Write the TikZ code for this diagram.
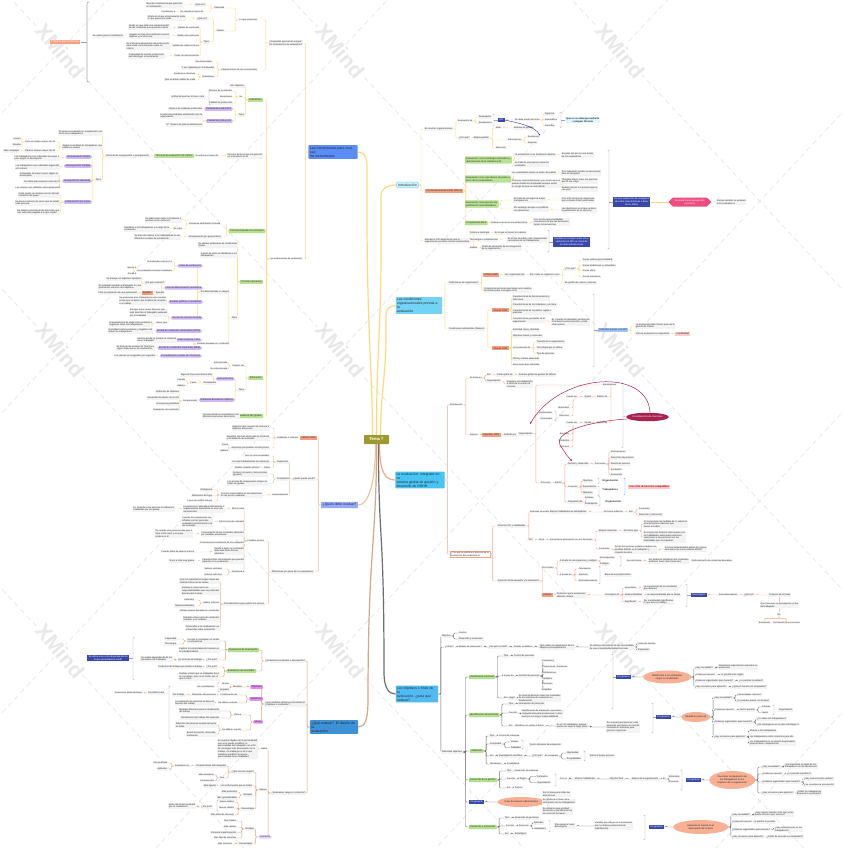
\documentclass[tikz,border=0pt]{standalone}
\usepackage{fontspec}
\setmainfont{Liberation Sans}
\usetikzlibrary{shapes.geometric,shapes.symbols,arrows.meta}
\pgfdeclarelayer{back}\pgfdeclarelayer{bg}
\pgfsetlayers{back,bg,main}
\definecolor{ylw}{HTML}{FFD87A}
\definecolor{slm}{HTML}{F8A68A}
\definecolor{tnl}{HTML}{E9C7A4}
\definecolor{brn}{HTML}{D7A77E}
\definecolor{gry}{HTML}{6E6E6E}
\definecolor{lfbg}{HTML}{F3F3F3}
\definecolor{gbf}{HTML}{B9E394}
\definecolor{gbd}{HTML}{8FCB5C}
\definecolor{pbf}{HTML}{CDB8F8}
\definecolor{sbf}{HTML}{F59E80}
\definecolor{dbf}{HTML}{3949AB}
\definecolor{elf}{HTML}{F8B094}
\definecolor{olv}{HTML}{9C9A2C}
\definecolor{hbl}{HTML}{5B8DF6}
\definecolor{icy}{HTML}{CFF3FC}
\definecolor{cbl}{HTML}{73D3F5}
\definecolor{ebl}{HTML}{48C4F4}
\definecolor{qbl}{HTML}{93ABFB}
\definecolor{wbl}{HTML}{3D91D6}
\definecolor{obl}{HTML}{52BAF2}
\definecolor{mar}{HTML}{A8244F}
\definecolor{hexc}{HTML}{EC4E80}
\definecolor{ppk}{HTML}{E28DF0}
\definecolor{lbb}{HTML}{9EC3FA}
\tikzset{
 lf/.style={fill=lfbg,inner xsep=0.7pt,inner ysep=0.45pt,align=left,text=black!85,font=\fontsize{2.3}{2.75}\selectfont},
 sm/.style={inner xsep=1.2pt,inner ysep=0.8pt,align=left,text=black!85,font=\fontsize{2.4}{2.9}\selectfont},
 gb/.style={sm,fill=gbf,draw=gbd,line width=0.25pt,rounded corners=0.6pt},
 pb/.style={sm,fill=pbf,rounded corners=1.6pt,inner xsep=1.6pt},
 ppb/.style={sm,fill=ppk,rounded corners=0.5pt},
 sb/.style={sm,fill=sbf},
 dbx/.style={sm,fill=dbf,text=white,align=center},
 ell/.style={ellipse,fill=elf,inner sep=0pt,align=center,text=black!85,font=\fontsize{2.4}{2.9}\selectfont},
 brk/.style={draw=gray!70,line width=0.35pt},
 main/.style={align=left,inner sep=1.6pt,rounded corners=0.8pt,text=black!85,font=\fontsize{3.4}{4}\selectfont},
 cn/.style={line width=0.45pt,rounded corners=1pt},
 wm/.style={text=black!9,fill=white,inner sep=1pt,font=\fontsize{21}{21}\selectfont\bfseries,rotate=-50},
 wml/.style={draw=black!11,line width=0.6pt,dash pattern=on 5pt off 4pt},
}
\gdef\conns{}
\newcommand\curc{ylw}
\newcommand\cX[1]{\xdef\conns{\unexpanded\expandafter{\conns}\noexpand\draw[cn,draw=\curc] #1;}}
\newcommand\Lf[3]{\node[lf,anchor=east] (#1) at (#2) {#3};}
\newcommand\Rf[3]{\node[lf,anchor=west] (#1) at (#2) {#3};}
\newcommand\cL[2]{\cX{(#1.west) -- ++(-2.5,0) |- (#2.east)}}
\newcommand\cR[2]{\cX{(#1.east) -- ++(2.5,0) |- (#2.west)}}
\newcommand\cLs[2]{\foreach \xx in {#2}{\cL{#1}{\xx}}}
\newcommand\cRs[2]{\foreach \xx in {#2}{\cR{#1}{\xx}}}
\newcommand\brL[3]{\draw[brk] (#1+1.5,#2) .. controls (#1,#2) .. (#1,#2+2) -- (#1,#3-2) .. controls (#1,#3) .. (#1+1.5,#3);}
\newcommand\brR[3]{\draw[brk] (#1-1.5,#2) .. controls (#1,#2) .. (#1,#2+2) -- (#1,#3-2) .. controls (#1,#3) .. (#1-1.5,#3);}
\begin{document}
\begin{tikzpicture}[x=1pt,y=-1pt]
\begin{pgfonlayer}{back}
\fill[white] (0,0) rectangle (842,848);
\begin{scope}
\clip (0,0) rectangle (842,848);
\foreach \bb in {-613,-313,-13,287,587}{\draw[wml] (-10,-10.714+\bb) -- (852,912.86+\bb);}
\foreach \bb in {115,415,715,1015,1315,1615}{\draw[wml] (-10,10.714+\bb) -- (852,-912.86+\bb);}
\end{scope}
\foreach \wx in {60,340,620}{\foreach \wy in {51,350,651}{\node[wm] at (\wx,\wy) {XMind};}}
\end{pgfonlayer}
\useasboundingbox (0,0) rectangle (842,848);

% ===== main nodes
\node[main,fill=olv,text=white,font=\fontsize{4.2}{5}\selectfont\bfseries,minimum width=25,minimum height=9,align=center] (T) at (376.5,439.5) {Tema 7};
\node[main,fill=hbl,text width=46] (H) at (333,152) {Las herramientas para evaluar:\\los instrumentos};
\node[main,fill=icy,draw=cbl,line width=0.3pt] (I) at (407.5,185) {Introducción};
\node[main,fill=cbl,text width=44,inner sep=1.2pt] (C) at (419,305.5) {Las condiciones\\organizacionales previas a la\\evaluación};
\node[main,fill=ebl,text width=47,inner sep=1.2pt] (E) at (420,480) {La evaluación: integrada en un\\sistema global de gestión y\\desarrollo de RRHH};
\node[main,fill=qbl] (Q) at (339.5,505) {¿Quién debe evaluar?};
\node[main,fill=wbl,text width=45] (W) at (334,727) {¿Qué evaluar? El diseño de la\\evaluación};
\node[main,fill=obl,text width=40,inner sep=1.2pt] (O) at (417,694) {Los objetivos o fines de la\\evaluación, ¿para qué\\evaluar?};

% ===== H section
\Lf{h1}{303,43}{¿Requisitos que han de cumplir\\los instrumentos de evaluación?}
\Lf{h2}{303,259}{Los instrumentos de evaluación}
\cLs{H}{h1,h2}
\Lf{h11}{258,20}{Lo que presentan}
\Lf{h12}{258,70}{Características de los instrumentos}
\cLs{h1}{h11,h12}
\Lf{h111}{225,8}{Fiabilidad}
\Lf{h112}{225,31}{Validez}
\cLs{h11}{h111,h112}
\Lf{a1}{206,5}{¿Qué es?} \Lf{a2}{183,5}{Nivel de consistencia que presenta\\un instrumento}
\Lf{a3}{204,12}{Se calcula a través de} \Lf{a4}{176,12}{Correlación α}
\cLs{h111}{a1,a3}\cL{a1}{a2}\cL{a3}{a4}
\Lf{a5}{208,19}{¿Qué es?} \Lf{a6}{186,18}{Grado en el que el instrumento mide\\lo que queremos medir}
\Lf{a7}{210,42}{Tipos}
\cLs{h112}{a5,a7}\cL{a5}{a6}
\Lf{a8}{200,28}{Validez de contenido} \Lf{a9}{170,27}{Grado en que mide una representación\\de las conductas que queremos medir}
\Lf{a10}{200,36}{Validez de constructo} \Lf{a11}{170,36}{Aspecto en que sirve midiendo nuestro\\objetivo y no otra cosa}
\Lf{a12}{200,46}{Validez de criterio externo} \Lf{a13}{170,46}{Se trata de la adecuación del instrumento\\para medir correctamente sobre un\\criterio}
\Lf{a14}{200,56}{Poder de discriminación} \Lf{a15}{165,56}{Capacidad de nuestro instrumento\\para distinguir el rendimiento}
\cLs{a7}{a8,a10,a12,a14}\cL{a8}{a9}\cL{a10}{a11}\cL{a12}{a13}\cL{a14}{a15}
\Lf{a16}{213,62}{Ser observables} \Lf{a17}{215,68}{Y ser captadas por el evaluador} \Lf{a18}{215,77}{Evaluativas}
\cLs{h12}{a16,a17,a18}
\Lf{a19}{196,74}{Conducta a observar} \Lf{a20}{196,80}{Que se debe realizar de cada}
\cLs{a18}{a19,a20}
\node[lf,anchor=west] (sv) at (92,36) {Se valora para el rendimiento};
\draw[brk,line width=0.6pt] (89.5,2) .. controls (87,2) .. (87,5) -- (87,79) .. controls (87,82) .. (89.5,82);
\node[sm,fill=sbf,text=white,font=\fontsize{2.8}{3.2}\selectfont] (cp) at (65,42) {Criterios psicométricos};
\draw[brk] (cp.east) -- (87,42);

\node[gb,anchor=east] (b1) at (263,100) {Indicadores};
\cL{h2}{b1}
\Lf{b11}{245,86}{Son objetivos} \Lf{b12}{243,97}{Su} \Lf{b13}{245,115}{Tipos}
\cLs{b1}{b11,b12,b13}
\Lf{b14}{233,91}{Número de accidentes} \Lf{b15}{233,97}{Absentismo} \Lf{b16}{233,103}{Calidad de producción}
\cLs{b12}{b14,b15,b16}
\brL{209}{89}{105}
\Lf{b17}{205,97}{Actitud de que hay lo bien o mal}
\node[pb,anchor=east] (b18) at (233,109) {Cantidad de producción};
\node[pb,anchor=east] (b19) at (233,121) {Calidad de producción};
\cLs{b13}{b18,b19}
\Lf{b20}{203,109}{Número de unidades producidas} \cL{b18}{b20}
\Lf{b21}{203,116}{A partir de resultados establecidos por la\\organización} \Lf{b22}{203,125}{Nº. Número de piezas defectuosas}
\cLs{b19}{b21,b22}

\Lf{m1}{263,156}{Para los factores que los generan\\en el producto en el}
\cL{h2}{m1}
\Lf{m2}{219,156}{Se enfoca a través de} \cL{m1}{m2}
\node[gb,anchor=east] (m3) at (194,156) {Técnicas de evaluación de méritos}; \cL{m2}{m3}
\Lf{m4}{150,156}{Técnicas de comparación o jerarquización} \cL{m3}{m4}
\Lf{m5}{103,133}{El sujeto es evaluado en comparación con\\otros otros trabajadores}
\Lf{m6}{103,147}{Según la cantidad de trabajadores que\\podemos evaluar}
\Lf{m7}{102,180}{Tipos}
\cLs{m4}{m5,m6,m7}
\Lf{m8}{56,142}{Para un número menor de 20} \Lf{m9}{56,151}{Para un número mayor de 20}
\cLs{m6}{m8,m9}
\Lf{m10}{22,139}{Grupos} \Lf{m11}{22,145}{Simples} \cLs{m8}{m10,m11}
\Lf{m12}{20,151}{Más complejas} \cL{m9}{m12}
\node[pb,anchor=east] (j1) at (92,157) {Jerarquización simple};
\node[pb,anchor=east] (j2) at (92,166) {Jerarquización múltiple};
\node[pb,anchor=east] (j3) at (92,181) {Jerarquización alternada};
\node[pb,anchor=east] (j4) at (92,202) {Comparación por pares};
\cLs{m7}{j1,j2,j3,j4}
\Lf{j11}{60,158}{Los trabajadores son ordenados de mejor a\\peor según su desempeño} \cL{j1}{j11}
\Lf{j21}{60,167}{Los trabajadores son ordenados siguiendo\\otro criterio} \cL{j2}{j21}
\Lf{j31}{59,175}{Ordenados de mejor a peor según su\\desempeño} \Lf{j32}{61,182}{Se utiliza para evaluar a más de 20} \Lf{j33}{61,188}{Los criterios son utilizados alternativamente}
\cLs{j3}{j31,j32,j33}
\Lf{j41}{60,195}{Cada sujeto se compara con los demás\\miembros del grupo} \Lf{j42}{60,203}{Se pone el número de veces que ha salido\\cada persona} \Lf{j43}{60,212}{Se elabora una lista de las personas que\\han sido más elegidas a lo que resulte}
\cLs{j4}{j41,j42,j43}

\node[gb,anchor=east] (t1) at (265,231) {Técnicas basadas en principios};
\cL{h2}{t1}
\Lf{t2}{221,224}{Escala de distribución forzada} \Lf{t3}{222,237}{Jerarquización por grupos libres}
\cLs{t1}{t2,t3}
\Lf{t4}{182,220}{Se utiliza para evitar la tendencia a\\puntuar en los extremos} \Lf{t5}{183,229}{Su valor}
\cLs{t2}{t4,t5}
\Lf{t6}{170,229}{Identificar a los trabajadores a lo largo de la\\puntuación} \cL{t5}{t6}
\Lf{t7}{181,237}{Se trata de ordenar a los trabajadores en las\\diferentes escalas de rendimiento} \cL{t3}{t7}

\node[gb,anchor=east] (u1) at (263,282) {Técnicas absolutas}; \cL{h2}{u1}
\Lf{u2}{238,245}{Se utilizan estándares de rendimiento\\fijados} \Lf{u3}{238,255}{A partir de estos se identifican a los\\trabajadores} \Lf{u4}{238,318}{Tipos}
\cLs{u1}{u2,u3,u4}
\Lf{u5}{230,292}{Escalas basadas en rasgos} \Lf{u6}{230,344}{Escalas basadas en conductas}
\cLs{u4}{u5,u6}
\node[pb,anchor=east] (r1) at (203,266) {Listas de verificación};
\node[pb,anchor=east] (r2) at (203,288) {Lista de diferenciación semántica};
\node[pb,anchor=east] (r3) at (203,302) {Escalas gráficas o numéricas};
\node[pb,anchor=east] (r4) at (203,318) {Escala de elección forzada};
\cLs{u5}{r1,r2,r3,r4}
\Lf{r11}{173,262}{El evaluador marca en x} \Lf{r12}{173,271}{Los evaluadores tienen resultados}
\cLs{r1}{r11,r12}
\Lf{r13}{137,268}{Nunca 1} \Lf{r14}{137,274}{Pocas 2} \cLs{r12}{r13,r14}
\Lf{r21}{165,283}{¿En qué consiste?} \Lf{r22}{165,293}{Ejemplo}
\cLs{r2}{r21,r22}
\Lf{r23}{142,279}{Se trabaja con adjetivos bipolares} \Lf{r24}{142,287}{El evaluador localiza al trabajador en una\\puntuación entre los dos adjetivos}
\cLs{r21}{r23,r24}
\node[sb,anchor=east] (r25) at (153,293) {Ejemplo}; \cL{r22}{r25}
\Lf{r26}{138,293}{Para la realización de una puntuación} \cL{r25}{r26}
\Lf{r31}{167,301}{Se presentan a los trabajadores unas escalas\\en las que se tienen que localizar de acuerdo\\a su trabajo} \cL{r3}{r31}
\Lf{r41}{168,313}{Escoger entre varias frases la que\\más describe al trabajador evaluado\\por el evaluador} \Lf{r42}{168,323}{Hacer que}
\cLs{r4}{r41,r42}
\Lf{r43}{153,324}{El evaluador ha de elegir entre positivas o\\negativas sobre los trabajadores} \cL{r42}{r43}
\node[pb,anchor=east] (s1) at (202,331) {Escala de conductas observables (BOS)};
\node[pb,anchor=east] (s2) at (202,340) {Técnica del incidente crítico};
\node[pb,anchor=east] (s3) at (202,348) {Escala de conductas esperadas (BES)};
\node[pb,anchor=east] (s4) at (202,356) {Procedimiento escalas de Thurstone};
\cLs{u6}{s1,s2,s3,s4}
\Lf{s11}{153,331}{Describen hechos positivos y negativos de\\actuar los trabajadores} \cL{s1}{s11}
\Lf{s21}{177,340}{Hechos donde se produjo la conducta\\de un trabajador} \cL{s2}{s21}
\Lf{s31}{155,348}{Se trata de las escalas de Thurstone\\según dimensiones de rendimiento} \cL{s3}{s31}
\Lf{s41}{156,356}{Los valores son asignados por expertos} \cL{s4}{s41}

\node[gb,anchor=east] (v1) at (263,378) {Entrevistas}; \cL{h2}{v1}
\Lf{v2}{245,366}{Pueden ser} \Lf{v3}{245,390}{Tipos} \cLs{v1}{v2,v3}
\Lf{v4}{228,363}{Estructurada} \Lf{v5}{228,369}{No estructurada} \cLs{v2}{v4,v5}
\node[pb,anchor=east] (v6) at (235,379) {Entrevista libre};
\node[pb,anchor=east] (v7) at (235,400) {Entrevista basada en objetivos};
\cLs{v3}{v6,v7}
\Lf{v8}{213,375}{Sigue la línea del sistema libre} \Lf{v9}{217,383}{Desempeño}
\cLs{v6}{v8,v9}
\Lf{v10}{197,383}{Pacto} \cL{v9}{v10}
\Lf{v11}{186,380}{Pasado} \Lf{v12}{186,386}{Hábitos} \cLs{v10}{v11,v12}
\Lf{v13}{198,401}{Componentes} \cL{v7}{v13}
\Lf{v14}{180,392}{Definición de objetivos} \Lf{v15}{180,398}{Desarrollo de planes de acción} \Lf{v16}{180,404}{Revisiones periódicas} \Lf{v17}{180,410}{Evaluación de resultados}
\cLs{v13}{v14,v15,v16,v17}
\node[gb,anchor=east] (f1) at (263,416) {Feedback 360 grados}; \cL{h2}{f1}
\Lf{f2}{240,416}{Técnica donde los evaluadores son\\diferentes personas del entorno} \cL{f1}{f2}

% ===== Introducción
\Rf{i1}{424,129}{En muchas organizaciones}
\node[sb,anchor=west] (i2) at (425,191) {Consecuencias de la DPI (Pérez)};
\Rf{i3}{424,241}{Abordar la DPI depende de que la\\organización presente ciertas características}
\cRs{I}{i1,i2,i3}
\Rf{i11}{457,121}{Evaluación de} \Rf{i12}{458,138}{¿Por qué?}
\cRs{i1}{i11,i12}
\Rf{i13}{478,117}{Desempeño} \Rf{i14}{478,123}{Rendimiento} \cRs{i11}{i13,i14}
\brR{494}{114}{126}
\node[dbx,anchor=west] (dpi) at (498,120) {DPI};
\draw[brk] (494,120) -- (dpi.west);
\Rf{i15}{514,120}{Se debe medir de forma} \cR{dpi}{i15}
\Rf{i16}{544,114}{Rigurosa} \Rf{i17}{544,120}{Sistemática} \Rf{i18}{544,126}{Periódica} \cRs{i15}{i16,i17,i18}
\brR{561}{112}{128}
\node[sm,fill=icy!70,anchor=west,align=center,font=\fontsize{2.4}{2.9}\selectfont\bfseries] (i19) at (565,120) {Que no se obtenga mediante\\cualquier fórmula};
\draw[brk] (561,120) -- (i19.west);
\Rf{i20}{473,138}{Mejora gestión} \cR{i12}{i20}
\Rf{i21}{495,128}{Mide} \Rf{i22}{507,140}{Subsistemas} \Rf{i23}{495,148}{Selección}
\cRs{i20}{i21,i22,i23}
\Rf{i24}{513,128}{Sistema de gestión} \cR{i21}{i24}
\Rf{i25}{527,137}{Evaluación} \Rf{i26}{527,143}{Reportar} \cRs{i22}{i25,i26}
\draw[blue!60!black,line width=0.3pt,-{Stealth[length=1.6pt,width=1.4pt]}] (dpi.east) .. controls (518,123) and (535,126) .. (i25.north east);
\node[gb,anchor=west] (g1) at (465,160) {Evaluación como estrategia orientadora y\\determinante de la calidad social};
\node[gb,anchor=west] (g2) at (465,179) {Evaluación como reproductor de poder a\\favor de los evaluadores};
\node[gb,anchor=west] (g3) at (465,204) {Evaluación como proceso de\\justificación racionalizadora};
\node[gb,anchor=west] (g4) at (465,223) {Competencia ética};
\cRs{i2}{g1,g2,g3,g4}
\Rf{g11}{514,155}{La evaluación no es totalmente objetiva} \Rf{g12}{514,164}{Se trata de unos juicios sobre los\\resultados}
\cRs{g1}{g11,g12}
\Rf{g13}{561,155}{El poder del que es una fuente\\de los evaluadores} \cR{g11}{g13}
\Rf{g21}{511,173}{Los evaluadores tienen el poder de evaluar} \Rf{g22}{511,184}{Como las recomendaciones, por mucho que se\\quieran hablar de objetividad siempre existe\\un riesgo de que se esté influido}
\cRs{g2}{g21,g22}
\Rf{g23}{561,173}{Esa evaluación tendrá consecuencias\\para el trabajador} \Rf{g24}{561,181}{Otorgarle mayor valor a la persona\\que le cae mejor} \Rf{g25}{561,189}{Evaluar menos a la persona que le\\cae peor}
\cR{g21}{g23}\cRs{g22}{g24,g25}
\Rf{g31}{513,200}{Se trata de conseguir la mayor\\transparencia} \Rf{g32}{513,209}{Sin embargo siempre se justifican\\con decisiones}
\cRs{g3}{g31,g32}
\Rf{g33}{561,200}{Con el fin de que las decisiones\\que se basen estén justificadas} \Rf{g34}{561,210}{Las decisiones en el que se basa\\la justificación de su decisión}
\cR{g31}{g33}\cR{g32}{g34}
\Rf{g41}{490,223}{Debemos de tener una actitud ética} \cR{g4}{g41}
\Rf{g42}{533,222}{Con mucha responsabilidad,\\conscientes de que las decisiones\\tienen consecuencias} \cR{g41}{g42}
\brR{609}{150}{249}
\node[dbx,anchor=west] (g5) at (613,202) {Es una evaluación de cualquiera\\de estas características a favor\\de su efecto};
\draw[brk] (609,202) -- (g5.west);
\node[signal,signal to=east and west,fill=hexc,text=white,font=\fontsize{2.4}{2.9}\selectfont,align=center,inner sep=0.6pt,minimum width=43,minimum height=9,anchor=west] (g6) at (668,202) {Se suele hacer desapercibir\\(encubrir)};
\cX{(g5.east) -- (g6.west)}
\Rf{g7}{716,202}{Porque también se evaluará\\a los evaluadores} \cR{g6}{g7}
\Rf{k1}{469,233}{Cultura e ideología} \Rf{k2}{469,240}{Tecnología o competencias} \Rf{k3}{469,248}{Medios}
\cRs{i3}{k1,k2,k3}
\Rf{k4}{494,233}{Es lo que se hacen los valores} \Rf{k5}{507,240}{Es el tipo de saber y las competencias\\necesarias de los trabajadores} \Rf{k6}{481,248}{Grado de desarrollo de los integrantes\\de la organización}
\cR{k1}{k4}\cR{k2}{k5}\cR{k3}{k6}
\brR{549}{230}{252}
\node[dbx,anchor=west] (k7) at (553,242) {Cuando se manejan todos estos\\elementos la DPI se convierte\\en unas interacciones};
\draw[brk] (549,242) -- (k7.west);

% ===== Condiciones
\Rf{c1}{448,283}{Definiciones de organización} \Rf{c2}{448,329}{Condiciones ambientales (Álvarez)}
\cRs{C}{c1,c2}
\node[sb,anchor=west] (c11) at (483,275) {Schein 1982}; \Rf{c12}{483,290}{Conjunto de personas que tienen unos medios\\necesarios para conseguir un fin}
\cRs{c1}{c11,c12}
\Rf{c13}{504,275}{Las organizaciones} \cR{c11}{c13}
\Rf{c14}{529,275}{Son como un organismo vivo} \cR{c13}{c14}
\Rf{c15}{564,269}{¿Por qué?} \Rf{c16}{564,283}{Se gestionan, nacen y mueren} \cRs{c14}{c15,c16}
\Rf{c17}{582,260}{Posee cultura (personalidad)} \Rf{c18}{582,265.5}{Posee tradiciones y costumbres} \Rf{c19}{582,271}{Posee clima} \Rf{c20}{582,277}{Posee estructura}
\cRs{c15}{c17,c18,c19,c20}
\node[sb,anchor=west] (c21) at (492,310) {Álvarez 1982}; \node[sb,anchor=west] (c22) at (492,348) {Álvarez 1999};
\cRs{c2}{c21,c22}
\Rf{c23}{512,298}{Características de funcionamiento y\\estructura} \Rf{c24}{512,305}{Características de los individuos y el clima} \Rf{c25}{512,312}{Características de la política, reglas o\\prácticas} \Rf{c26}{512,320.5}{Características percibidas de la\\organización}
\cRs{c21}{c23,c24,c25,c26}
\Rf{c27}{551,322}{Ej. Cuando el trabajador percibe que\\el ambiente evita la presión y sabe\\cómo actuar} \cR{c26}{c27}
\Rf{c28}{512,330}{Actividad clara y decidida} \Rf{c29}{512,336}{Objetivos claros y conocidos} \Rf{c30}{512,348}{Conocimiento de} \Rf{c31}{512,359}{Clima y cultura adecuada} \Rf{c32}{512,365}{Estructuras bien definidas}
\cRs{c22}{c28,c29,c30,c31,c32}
\Rf{c33}{536,342}{Tamaño de la organización} \Rf{c34}{536,348}{Tecnología que se utiliza} \Rf{c35}{536,353.5}{Tipo de personal}
\cRs{c30}{c33,c34,c35}
\brR{594}{294}{367}
\node[sm,fill=lbb,anchor=west] (c36) at (598,330) {Actitudes previas a la DPI};
\draw[brk] (594,330) -- (c36.west);
\Rf{c37}{635,326}{La evaluación debe formar parte de la\\gestión de RRHH} \Rf{c38}{635,334}{Para la evaluación es importante}
\cRs{c36}{c37,c38}
\node[sm,fill=red!20,anchor=west] (c39) at (675,334) {Credibilidad}; \cR{c38}{c39}

% ===== Evaluación integrada
\renewcommand\curc{slm}
\Rf{e1}{449,405}{Introducción}
\node[lf,anchor=west,draw=slm,fill=white,line width=0.4pt,inner sep=1pt] (e2) at (450,554) {¿Por qué se justifica el proceso de la\\evaluación del rendimiento?};
\cRs{E}{e1,e2}
\Rf{e11}{469,378}{Se basa en} \Rf{e12}{469,435}{Autores}
\cRs{e1}{e11,e12}
\Rf{e13}{486,375}{DPI} \Rf{e14}{486,381}{Organización} \cRs{e11}{e13,e14}
\Rf{e15}{496,375}{Forma parte de} \cR{e13}{e15}
\Rf{e16}{518,375}{Sistema global de gestión de RRHH} \cR{e15}{e16}
\Rf{e17}{506,384}{Requiere una adaptación\\a partir de la cual se la\\conozca} \cR{e14}{e17}
\node[sb,anchor=west] (e18) at (482,435) {Sánchez, 2007}; \cR{e12}{e18}
\Rf{e19}{503,435}{Definido por} \cR{e18}{e19}
\Rf{e20}{518,434}{Organización} \cR{e19}{e20}
\Rf{e21}{602,385}{Subsistemas}
\Rf{e40}{540,483}{Procesos}
\cRs{e20}{e21,e40}
\Lf{e22}{608,397}{Ámbito de} \Lf{e23}{592,397}{Ajuste} \Lf{e24}{578,397}{Puede ser}
\cX{(611,387) |- (e22.east)} \cL{e22}{e23} \cL{e23}{e24}
\Lf{e25}{570,408}{Materiales} \Lf{e26}{570,416}{Recursos}
\cX{(573,399) |- (e25.east)} \cX{(573,399) |- (e26.east)}
\Lf{e27}{553,413}{Ambientales} \Lf{e28}{553,419}{Personales}
\brR{556}{411}{421}
\Lf{e32}{608,423}{Ámbito de} \Lf{e33}{592,423}{Ayuda} \Lf{e34}{578,423}{Puede ser}
\cX{(611,387) |- (e32.east)} \cL{e32}{e33} \cL{e33}{e34}
\Lf{e35}{570,434}{Servicios} \Lf{e36}{570,440.5}{Productos} \Lf{e37}{570,447}{Técnicos}
\cX{(573,425) |- (e35.east)} \cX{(573,425) |- (e36.east)} \cX{(573,425) |- (e37.east)}
\draw[brk] (621.5,383) .. controls (623,383) .. (623,385) -- (623,446) .. controls (623,448) .. (621.5,448);
\node[ellipse,fill=mar,text=white,font=\fontsize{2.4}{2.9}\selectfont,inner sep=0pt,minimum width=42,minimum height=8.5] (ecr) at (647.5,417) {Consideración de relaciones};
\draw[brk] (623,416) -- (ecr.west);
\draw[mar,line width=0.5pt,-{Stealth[length=2.2pt,width=2pt]}] (650,412.5) .. controls (648,368) and (560,372) .. (530,424);
\draw[mar,line width=0.5pt,-{Stealth[length=2.2pt,width=2pt]}] (627,419) .. controls (592,421) and (548,432) .. (562,448) .. controls (565,453) and (568,457) .. (572,461);
\Rf{e41}{554,483}{RRHH} \cR{e40}{e41}
\Rf{e42}{567,464}{Gestión y desarrollo} \Rf{e43}{567,487}{Conexión} \Rf{e44}{567,502}{Integración de}
\cRs{e41}{e42,e43,e44}
\Rf{e45}{594,464}{Funciones} \cR{e42}{e45}
\Rf{e46}{610,452}{Reclutamiento} \Rf{e47}{610,458}{Selección de personal} \Rf{e48}{610,464}{Diseño de puestos} \Rf{e49}{610,469.5}{Formación} \Rf{e50}{610,475}{Evaluación}
\cRs{e45}{e46,e47,e48,e49,e50}
\Rf{e51}{582,481}{Objetivos} \Rf{e52}{582,487}{Expectativas} \Rf{e53}{582,493}{Objetivos}
\cRs{e43}{e51,e52,e53}
\brR{599}{478}{484} \brR{599}{486}{496}
\node[sm,anchor=west,font=\fontsize{2.5}{3}\selectfont\bfseries] (e54) at (601,481) {Organización};
\node[sm,anchor=west,font=\fontsize{2.5}{3}\selectfont\bfseries] (e55) at (601,490) {Trabajadores};
\Rf{e56}{584,498}{Políticas} \Rf{e57}{584,504}{Desempeño} \cRs{e44}{e56,e57}
\brR{600}{496}{506}
\node[sm,anchor=west,font=\fontsize{2.5}{3}\selectfont\bfseries] (e58) at (604,501.5) {Organización};
\draw[blue!50,line width=0.35pt] (623.5,478) .. controls (625,478) .. (625,480) -- (625,493) .. controls (625,495) .. (623.5,495);
\node[sm,fill=red!22,text=red!50!black,anchor=west,font=\fontsize{2.4}{2.9}\selectfont\bfseries] (e59) at (628,487) {Con el fin de hacerlos compatibles};
\Rf{e60}{497,526}{Relación DPI y habilidades} \Rf{e61}{497,581}{Relación del desempeño y la motivación}
\cRs{e2}{e60,e61}
\Rf{e62}{529,512}{Sistemas de evaluación} \Rf{e63}{528,540}{DPI} \cRs{e60}{e62,e63}
\Rf{e64}{549,512}{Mejorar habilidades de trabajadores} \cR{e62}{e64}
\Rf{e65}{603,512}{De forma indirecta} \cR{e64}{e65}
\Rf{e66}{628,512}{Son} \cR{e65}{e66}
\Rf{e67}{638,509}{Formación} \Rf{e68}{638,515}{Selección y colocación} \cRs{e66}{e67,e68}
\Rf{e69}{538,540}{Sirve} \cR{e63}{e69}
\Rf{e70}{549,540}{Aumentar la adecuación en sus funciones} \cR{e69}{e70}
\Rf{e71}{598,531}{Mejorar selección} \Rf{e72}{598,549}{Formación} \cRs{e70}{e71,e72}
\Rf{e73}{623,531}{De forma que} \cR{e71}{e73}
\Rf{e74}{643,524}{Si conocemos las medidas de X, sabemos\\exactamente los factores que\\fueron a la idea} \Rf{e75}{643,537}{Al conocer los factores relacionados con\\las habilidades adecuadas podremos\\seleccionar a las personas con las\\habilidades que se requieren}
\cRs{e73}{e74,e75}
\Rf{e76}{614,550}{De las formaciones podemos deducir los\\posibles déficits en el trabajador y\\conjunto de ellos} \cR{e72}{e76}
\Rf{e77}{664,549}{Conocer determinados planes de mejora\\para potenciar esos posibles déficits} \cR{e76}{e77}
\Rf{e80}{541,568}{Dos formas} \node[sb,anchor=west] (e81) at (542,595) {Autores}; \cRs{e61}{e80,e81}
\Rf{e82}{559,561}{A través de recompensas y castigos} \Rf{e83}{559,575}{A través de} \cRs{e80}{e82,e83}
\Rf{e84}{599,558}{Recompensas} \Rf{e85}{599,564}{Castigos} \cRs{e82}{e84,e85}
\brR{621}{556}{566} \Rf{e86}{626,561}{De esta forma}
\Rf{e87}{648,561}{Así podemos identificar qué conductas\\podemos hacer más frecuentes} \cR{e86}{e87}
\Rf{e88}{691,561}{Reforzamiento de conductas deseadas} \cR{e87}{e88}
\Rf{e89}{578,569}{Orientación} \Rf{e90}{578,575}{Estímulo} \Rf{e91}{578,581}{Retroalimentación} \cRs{e83}{e89,e90,e91}
\brR{600}{566}{584} \Rf{e92}{604,575}{Base de las proporciones}
\Rf{e93}{556,595}{Destacan que la evaluación,\\además, motiva} \cR{e81}{e93}
\Rf{e94}{604,595}{Conceptos de} \cR{e93}{e94}
\Rf{e95}{624,588}{Resultados} \Rf{e96}{624,595}{Responsabilidad} \Rf{e97}{624,602}{Significado} \cRs{e94}{e95,e96,e97}
\Rf{e98}{643,588}{La importancia de los resultados\\que obtienen} \Rf{e99}{646,595}{La responsabilidad que le otorga} \Rf{e100}{643,602}{Ser considerado significativo\\lo que tiene su trabajo}
\cR{e95}{e98}\cR{e96}{e99}\cR{e97}{e100}
\brR{687}{584}{607}
\node[dbx,anchor=west] (e101) at (691,595) {Desempeño}; \draw[brk] (687,595) -- (e101.west);
\Rf{e102}{718,595}{Retroalimentación} \cR{e101}{e102}
\Rf{e103}{743,595}{¿Qué es?} \cR{e102}{e103}
\Rf{e104}{768,595}{Conjunto de técnicas} \cR{e103}{e104}
\node[lf] (e105) at (779.5,605.5) {Que favorecen la participación activa\\del trabajador};
\node[lf] (e106) at (779,615) {En};
\node[lf] (e107) at (764.5,623) {Evaluación}; \node[lf] (e108) at (786.5,623) {Corrección de sus errores};
\cX{(e104.south) -- (e105.north)} \cX{(e105.south) -- (e106.north)}
\cX{(e106.south) -- ++(0,2) -| (e107.north)} \cX{(e106.south) -- ++(0,2) -| (e108.north)}

% ===== Quién debe evaluar
\renewcommand\curc{tnl}
\node[sb,anchor=east] (q1) at (317,438) {Latham 2006};
\Lf{q2}{316,479}{¿Quién puede medir?}
\Lf{q3}{314,572}{Diferencias por parte de los evaluadores}
\cLs{Q}{q1,q2,q3}
\Lf{q4}{299,438}{Establece 3 criterios} \cL{q1}{q4}
\Lf{q5}{270,428}{Aspectos que conocen de manera a\\objetivos del puesto} \Lf{q6}{270,438}{Aspectos que han observado la conducta\\y rendimiento del evaluado} \Lf{q7}{270,448}{Aspectos que puedan a emitir juicios}
\cLs{q4}{q5,q6,q7}
\Lf{q8}{229,445}{Pares} \Lf{q9}{229,451}{Hábitos} \cLs{q7}{q8,q9}
\Lf{q10}{289,462}{Supervisor} \Lf{q11}{291,479}{Compañeros} \Lf{q12}{289,495}{Autoevaluación}
\cLs{q2}{q10,q11,q12}
\Lf{q13}{270,456}{Son los más accesibles} \Lf{q14}{270,462}{Los que habitualmente los observan} \Lf{q16}{271,467.5}{Pares}
\cLs{q10}{q13,q14,q16}
\Lf{q15}{260,467.5}{Suelen cometer errores} \cL{q16}{q15}
\Lf{q17}{268,474}{Conocer el puesto y las personas\\(iguales)} \Lf{q18}{268,483}{Los errores de comparación porque se\\tratan de iguales} \cLs{q11}{q17,q18}
\Lf{q19}{263,495}{Son los responsables en las situaciones\\en las que es evaluado} \cL{q12}{q19}
\Lf{q20}{213,490}{Inteligencia} \Lf{q21}{213,495.5}{Motivación de logro} \Lf{q22}{213,501}{Locus de control interno} \cLs{q19}{q20,q21,q22}
\Lf{q23}{265,541}{Posibles errores} \Lf{q24}{265,604}{Procedimientos para reducir los errores} \cLs{q3}{q23,q24}
\Lf{q25}{245,509}{Efecto Halo} \Lf{q26}{245,522}{Efecto halo de contraste} \Lf{q27}{245,534}{Conocimiento de los resultados obtenidos\\por variables predictoras} \Lf{q28}{245,543}{Conocimiento insuficiente de los evaluados} \Lf{q29}{245,551}{Tiende a llevar los resultados\\obtenidos hacia formas\\extremas} \Lf{q30}{245,561}{Características del evaluado que pueden\\impactar en la evaluación} \Lf{q31}{245,572}{Tendencia a}
\cLs{q23}{q25,q26,q27,q28,q29,q30,q31}
\Lf{q32}{225,509}{La persona es valorada positivamente o\\negativamente basándose en una sola\\característica} \cL{q25}{q32}
\Lf{q33}{175,509}{Ej. Cuando a una persona le atribuimos\\cualidades por ser guapa} \cL{q32}{q33}
\Lf{q34}{213,522}{Cuando los evaluadores son\\influidos por las personas\\evaluadas anteriormente a la\\del evaluado} \cL{q26}{q34}
\Lf{q35}{193,534}{Es cuando una persona sabe que X\\tiene cierto nivel y cree que\\predice en él} \cL{q27}{q35}
\Lf{q36}{195,552}{Cuando debe de valer la interna} \cL{q29}{q36}
\Lf{q37}{195,561}{Si por a más muy gracia} \cL{q30}{q37}
\Lf{q38}{223,569}{Valores centrales} \Lf{q39}{223,575}{Valores extremos} \cLs{q31}{q38,q39}
\Lf{q40}{220,581}{Que los evaluadores tengan claras las\\características de las tareas} \Lf{q41}{220,591}{Establecer claramente las\\responsabilidades que se pretenden\\buscar para la tarea} \Lf{q42}{220,603}{Utilizar criterios} \Lf{q43}{220,611}{Utilizar escalas basadas en conductas} \Lf{q44}{220,619}{Enseñar a tener más de conductas\\verbales y no verbales} \Lf{q45}{220,628}{Desarrollar a los evaluadores en\\entrevistas sobre evaluación}
\cLs{q24}{q40,q41,q42,q43,q44,q45}
\Lf{q46}{195,600}{Definidos} \Lf{q47}{195,606}{Operacionalizados} \cLs{q42}{q46,q47}

% ===== Qué evaluar
\renewcommand\curc{brn}
\Lf{w1}{306,661}{¿Evaluamos resultados o desempeño?} \Lf{w2}{306,704}{¿Qué medidas utilizamos (resultados)?\\¿objetivas o conductas?} \Lf{w3}{306,793}{¿Evaluamos rasgos o conducta?}
\cLs{W}{w1,w2,w3}
\node[gb,anchor=east] (w4) at (259,650) {Evaluación de desempeño}; \node[gb,anchor=east] (w5) at (256,671) {Evaluación de resultados};
\cLs{w1}{w4,w5}
\Lf{w6}{220,641}{Los que lo consiguen un medio\\o competencia} \Lf{w7}{220,650}{Explicar el comportamiento humano en\\la actividad laboral} \Lf{w8}{218,660}{¿Por qué?}
\cLs{w4}{w6,w7,w8}
\Lf{w9}{177,639}{Capacidad} \Lf{w10}{177,644}{Tecnología} \cLs{w6}{w9,w10}
\Lf{w11}{203,660}{En la forma de trabajar} \cL{w8}{w11}
\Lf{w12}{173,659}{Se evalúa dependiendo de los\\resultados del trabajador} \cL{w11}{w12}
\Lf{w13}{218,667}{¿Por qué?} \Lf{w14}{220,676.5}{Evaluar el todo que un trabajador tiene\\en su trabajo, pero no lo mismo por el\\que lo hace}
\cLs{w5}{w13,w14}
\Lf{w15}{203,667}{Productos del trabajo que realiza el trabajo} \cL{w13}{w15}
\brL{133}{637}{680}
\node[dbx,anchor=east] (w16) at (129,658) {Se utiliza una u otra dependiendo de\\lo que pretendamos medir}; \draw[brk] (w16.east) -- (133,658);
\node[ppb,anchor=east] (w20) at (263,687) {Objetivas}; \node[ppb,anchor=east] (w21) at (263,699) {Subjetivas}; \node[ppb,anchor=east] (w22) at (263,722) {Mixtas};
\cLs{w2}{w20,w21,w22}
\Lf{w23}{243,687}{Medidas} \cL{w20}{w23}
\Lf{w24}{230,684}{Únicas} \Lf{w25}{230,690}{Grupales} \cLs{w23}{w24,w25}
\brL{218}{682}{692}
\Lf{w26}{215,687}{Ser cuantitativas}
\Lf{w27}{238,695}{Combinación de} \Lf{w28}{238,703}{Se utilizan cuando} \cLs{w21}{w27,w28}
\Lf{w29}{217,695}{Diferentes dimensiones} \cL{w27}{w29}
\Lf{w30}{185,695}{Del trabajo} \cL{w29}{w30}
\Lf{w31}{215,703}{La evaluación de personal se basa en\\factores del trabajo} \cL{w28}{w31}
\Lf{w32}{242,715}{Piensa} \Lf{w33}{242,730}{Se utilizan cuando} \cLs{w22}{w32,w33}
\Lf{w34}{220,711}{Medidas diferentes para el rendimiento\\del trabajo} \Lf{w35}{220,718}{Rendimiento del trabajo del evaluado} \cLs{w32}{w34,w35}
\Lf{w36}{217,725}{Selección de personal cuando la fuente\\es fiable} \Lf{w37}{217,734}{Busca formación, desarrollo,\\motivación} \cLs{w33}{w36,w37}
\brL{169}{686}{739}
\Lf{w38}{165,693}{Se utilizan para} \Lf{w39}{143,693}{Decisiones administrativas} \cL{w38}{w39}
\Lf{w40}{268,749}{Hasta} \Lf{w41}{268,790}{Rasgos} \node[pb,fill=pbf!60,anchor=east] (w42) at (272,837) {Conducta};
\cLs{w3}{w40,w41,w42}
\Lf{w43}{258,749}{Es nuestro objetivo de la personalidad\\que se le puede modificar, la\\personalidad del trabajador con el fin\\de conseguir más desempeño en su\\trabajo, sin embargo no es lo que\\podemos modificar ya que la\\personalidad tiene estabilidad} \cL{w40}{w43}
\Lf{w44}{255,772}{¿Qué son los rasgos?} \Lf{w45}{253,786}{Los instrumentos que lo miden} \Lf{w46}{253,795}{Ventajas} \Lf{w47}{255,809}{Desventajas}
\cLs{w41}{w44,w45,w46,w47}
\Lf{w48}{227,766}{Características del trabajador} \Lf{w49}{225,778}{Son} \cLs{w44}{w48,w49}
\Lf{w50}{190,766}{Resultante de} \cL{w48}{w50}
\Lf{w51}{168,763}{Personalidad} \Lf{w52}{168,769}{Aptitudes} \cLs{w50}{w51,w52}
\Lf{w53}{215,775}{Más duraderos} \Lf{w54}{215,781}{Permanentes} \cLs{w49}{w53,w54}
\Lf{w55}{217,786}{Más ligados} \cL{w45}{w55}
\Lf{w56}{238,792}{Más profundos} \Lf{w57}{238,798}{Más generalizables} \cLs{w46}{w56,w57}
\Lf{w58}{235,802}{Menos fiables} \Lf{w59}{235,808}{Menos válidos} \Lf{w60}{235,815}{Más difícil de observar} \cLs{w47}{w58,w59,w60}
\brL{217}{800}{811} \Lf{w61}{213,807}{¿Por qué?} \Lf{w62}{196,806}{Mide más la personalidad\\que el rendimiento} \cL{w61}{w62}
\Lf{w63}{255,829}{Ventajas} \Lf{w64}{253,844}{Desventajas} \cLs{w42}{w63,w64}
\Lf{w65}{237,821}{Más fiables} \Lf{w66}{237,827}{Más válidos} \Lf{w67}{237,832.5}{Fomenta la participación} \Lf{w68}{237,838}{Más fácil de observar} \cLs{w63}{w65,w66,w67,w68}
\Lf{w69}{233,844}{Más costosos} \cL{w64}{w69}

% ===== Objetivos
\renewcommand\curc{gry}
\Rf{o1}{441,636}{Objetivo} \Rf{o2}{444,647}{¿Cómo?} \Rf{o3}{441,752}{Diferentes objetivos}
\cRs{O}{o1,o2,o3}
\Rf{o4}{458,633}{Control} \Rf{o5}{458,639}{Desarrollo y motivación} \cRs{o1}{o4,o5}
\Rf{o6}{458,647}{Modelo de referencia?} \cR{o2}{o6}
\Rf{o7}{488,647}{¿De qué se trata?} \cR{o6}{o7}
\Rf{o8}{513,647}{Modelo cualitativo} \cR{o7}{o8}
\Rf{o9}{539,647}{Que realiza el seguimiento de los\\objetivos presupuestarios} \cR{o8}{o9}
\Rf{o10}{589,647}{Se obtiene información de las necesidades\\de una comunidad/actividad concreta} \cR{o9}{o10}
\Rf{o11}{637,644}{Listas de clientes} \Rf{o12}{637,650}{Empleados} \cRs{o10}{o11,o12}
\node[gb,anchor=west] (G1) at (469,677) {Rendimiento personal};
\node[gb,anchor=west] (G2) at (469,715) {Identificación de potencial};
\node[gb,anchor=west] (G3) at (470,751) {Validación};
\node[gb,anchor=west] (G4) at (469,780) {Desarrollo de la gestión};
\node[dbx,anchor=west] (G5) at (469,802) {Fin general};
\node[gb,anchor=west] (G6) at (469,827) {Desarrollo y motivación};
\cRs{o3}{G1,G2,G3,G4,G5,G6}
\Rf{p1}{503,656}{Tipo} \Rf{p2}{501,676}{A través de} \Rf{p3}{503,698}{Rol}
\cRs{G1}{p1,p2,p3}
\Rf{p4}{513,656}{Control de personal} \cR{p1}{p4}
\Rf{p5}{518,676}{Gestión de personal} \cR{p2}{p5}
\Rf{p6}{541,661}{Comisiones} \Rf{p7}{541,667}{Promociones / Ascensos} \Rf{p8}{541,673}{Retribuciones} \Rf{p9}{541,678.5}{Traslados} \Rf{p10}{541,684}{Sanciones} \Rf{p11}{541,689.5}{Despidos}
\cRs{p5}{p6,p7,p8,p9,p10,p11}
\Rf{p12}{508,698}{Legal} \cR{p3}{p12}
\Rf{p13}{518,698}{Su nivel de decisión sobre los resultados\\de los sistemas de evaluación es\\fundamental} \cR{p12}{p13}
\brR{613}{654}{709}
\node[dbx,anchor=west] (p14) at (616,677) {Fin general}; \draw[brk] (613,677) -- (p14.west);
\node[ell,anchor=west,minimum width=48,minimum height=13] (p15) at (643,677) {Retribución a los empleados\\según su rendimiento}; \cR{p14}{p15}
\Rf{p16}{694,668}{¿Hay necesidad?} \Rf{p17}{694,675}{¿Podemos hacerlo?} \Rf{p18}{694,681}{¿Estamos organizados para hacerlo?} \Rf{p19}{694,687}{¿Hay consenso para aplicarlo?}
\cRs{p15}{p16,p17,p18,p19}
\Rf{p20}{718,667}{Necesita la organización aumentar su\\producción} \Rf{p21}{720,675}{Lo permiten las reglas} \Rf{p22}{738,681}{¿Lo permite la calidad?} \Rf{p23}{731,687}{¿Quieren hacerlo los empleados?}
\cR{p16}{p20}\cR{p17}{p21}\cR{p18}{p22}\cR{p19}{p23}
\Rf{p30}{508,704}{Tipo} \Rf{p31}{508,713}{Función} \Rf{p32}{508,726}{Rol}
\cRs{G2}{p30,p31,p32}
\Rf{p33}{518,704}{Orientación de personas} \cR{p30}{p33}
\Rf{p34}{521,714}{Identificación de empleados que tienen\\competencias para promocionar a otros\\puestos con mayor responsabilidad} \cR{p31}{p34}
\Rf{p35}{514,726}{Identifica con vistas al futuro} \cR{p32}{p35}
\Rf{p36}{556,726}{Es un rol estratégico, porque\\puede ser mejor a largo plazo} \cR{p35}{p36}
\Rf{p37}{606,727}{Se usa para promocionar a las\\personas que tienen un nivel de\\rendimiento suficiente para\\puestos superiores} \cR{p36}{p37}
\brR{653}{703}{733}
\node[dbx,anchor=west] (p38) at (656,717) {Fin general}; \draw[brk] (653,717) -- (p38.west);
\node[ell,anchor=west,minimum width=28,minimum height=10] (p39) at (681,717) {Identificar potencial}; \cR{p38}{p39}
\Rf{p40}{713,698}{¿Hay necesidad?} \Rf{p41}{713,710}{¿Podemos hacerlo?} \Rf{p42}{713,722}{¿Estamos organizados para hacerlo?} \Rf{p43}{713,737}{¿Hay consenso para aplicarlo?}
\cRs{p39}{p40,p41,p42,p43}
\Rf{p44}{736,695}{¿Necesidades internas?} \Rf{p45}{736,701}{¿Lo pueden prever con tiempo?} \cRs{p40}{p44,p45}
\Rf{p46}{739,710}{Nos lo permite} \cR{p41}{p46}
\Rf{p47}{761,707}{Políticas} \Rf{p48}{761,712.5}{Leyes} \cRs{p46}{p47,p48}
\brR{774}{705}{715} \Rf{p49}{778,710}{Organización}
\Rf{p50}{756,719}{¿Lo saben los trabajadores?} \Rf{p51}{756,724.5}{¿Se compaginan en un plan estratégico?} \cRs{p42}{p50,p51}
\Rf{p52}{749,731}{Motivar a los trabajadores} \Rf{p53}{749,736.5}{Los trabajadores están contentos para ello} \Rf{p54}{749,743}{Los trabajadores no se sienten desplazados\\porque tienen competencias} \cRs{p43}{p52,p53,p54}
\Rf{p60}{489,736}{Tipo} \Rf{p61}{489,744}{Comprobar} \Rf{p62}{489,756}{Rol} \Rf{p63}{489,764}{Obstáculos}
\cRs{G3}{p60,p61,p62,p63}
\Rf{p64}{498,736}{Control de sistemas} \cR{p60}{p64}
\Rf{p65}{510,742}{Validez} \Rf{p66}{510,747.5}{Fiabilidad} \cRs{p61}{p65,p66}
\brR{523}{740}{749} \Rf{p67}{529,744.5}{De los sistemas de evaluación}
\Rf{p68}{498,756}{Investigación científica} \cR{p62}{p68}
\Rf{p69}{531,756}{¿Por qué?} \cR{p68}{p69}
\Rf{p70}{544,756}{Es necesario} \cR{p69}{p70}
\Rf{p71}{566,753}{Objetividad} \Rf{p72}{566,759}{Aceptabilidad} \cRs{p70}{p71,p72}
\brR{585}{751}{761} \Rf{p73}{589,756}{Sobre el propio proceso}
\Rf{p74}{506,764}{Credibilidad} \cR{p63}{p74}
\Rf{p80}{506,771}{Tipo} \Rf{p81}{506,779}{Función} \Rf{p82}{506,788}{Rol}
\cRs{G4}{p80,p81,p82}
\Rf{p83}{514,788}{Táctico} \cR{p82}{p83}
\Rf{p84}{514,771}{Desarrollo de sistemas} \cR{p80}{p84}
\Rf{p85}{519,779}{Según} \cR{p81}{p85}
\Rf{p86}{536,776.5}{Formación} \Rf{p87}{536,782.5}{Organización} \cRs{p85}{p86,p87}
\brR{556}{774}{786}
\Rf{p88}{559,779}{Con el}
\Rf{p89}{574,779}{Mejorar habilidades} \cR{p88}{p89}
\Rf{p90}{609,779}{Objetivo final} \cR{p89}{p90}
\Rf{p91}{631,779}{Mejora de la organización} \cR{p90}{p91}
\Rf{p92}{662,779}{En} \cR{p91}{p92}
\Rf{p93}{668,776.5}{Estructura} \Rf{p94}{668,782}{Procesos} \cRs{p92}{p93,p94}
\brR{682}{770}{790}
\node[dbx,anchor=west] (p95) at (686,780) {Fin general};
\node[ell,anchor=west,minimum width=46,minimum height=18] (p96) at (709,780) {Favorecer la integración de\\los trabajadores en los\\objetivos de la organización}; \cR{p95}{p96}
\Rf{p97}{761,767}{¿Hay necesidad?} \Rf{p98}{761,774}{¿Podemos hacerlo?} \Rf{p99}{761,782}{¿Estamos organizados para hacerlo?} \Rf{p100}{761,793}{¿Hay consenso para aplicarlo?}
\cRs{p96}{p97,p98,p99,p100}
\Rf{p101}{784,766}{¿Es importante el papel de los\\trabajadores en las decisiones?} \Rf{p102}{786,774}{¿Lo permite la política?} \Rf{p103}{803,779}{¿Hay comunicación vertical?} \Rf{p104}{803,785}{¿Se considera la vinculación?} \Rf{p105}{796,793}{¿Están los trabajadores\\dispuestos a participar?}
\cR{p97}{p101}\cR{p98}{p102}\cRs{p99}{p103,p104}\cR{p100}{p105}
\node[ell,anchor=west,minimum width=41,minimum height=10] (p110) at (497,802) {Crear documento administrativo}; \cR{G5}{p110}
\Rf{p111}{542,794}{Son la base para todas las\\actuaciones} \Rf{p112}{542,801.5}{Se gestiona a través de la\\información de los trabajadores} \Rf{p113}{542,811}{Se utilizaría para posibles\\decisiones y planificación de\\los recursos humanos}
\cRs{p110}{p111,p112,p113}
\Rf{p120}{504,818}{Tipo} \Rf{p121}{505,826}{Función} \Rf{p122}{504,834}{Rol}
\cRs{G6}{p120,p121,p122}
\Rf{p123}{514,818}{Desarrollo de personas} \cR{p120}{p123}
\Rf{p124}{518,826}{Potenciar} \cR{p121}{p124}
\Rf{p125}{533,823}{Aptitudes} \Rf{p126}{533,829}{Habilidades} \cRs{p124}{p125,p126}
\brR{550}{820}{832}
\Rf{p127}{554,826}{Para generar mejor\\desempeño}
\Rf{p128}{594,826}{Variable que influye en la motivación\\que se obtiene posteriormente\\(satisfacción)} \cR{p127}{p128}
\brR{645}{815}{840}
\node[dbx,anchor=west] (p129) at (649,827) {Fin general};
\node[ell,anchor=west,minimum width=55,minimum height=14] (p130) at (673,827) {Aumentar la mejora en el\\desempeño de la tarea}; \cR{p129}{p130}
\Rf{p131}{731,815}{¿Hay necesidad?} \Rf{p132}{731,822}{¿Podemos hacerlo?} \Rf{p133}{731,829.5}{¿Estamos organizados para hacerlo?} \Rf{p134}{731,837}{¿Hay consenso para aplicarlo?}
\cRs{p130}{p131,p132,p133,p134}
\Rf{p135}{754,814}{¿Hay nuevos clientes a los que se les\\puede ofrecer mejor servicio?} \Rf{p136}{753,822}{La política lo permite} \Rf{p137}{774,829.5}{¿Hay competencias en los\\trabajadores?} \Rf{p138}{766,837}{¿Están de acuerdo los empleados?}
\cR{p131}{p135}\cR{p132}{p136}\cR{p133}{p137}\cR{p134}{p138}
\Rf{p139}{514,834}{Estratégico} \cR{p122}{p139}

% ===== connectors on background layer
\begin{pgfonlayer}{bg}
\draw[ylw,line width=1.2pt] ([xshift=-4]T.north) .. controls +(0,-60) and +(0,120) .. (367,210) -- (367,166) .. controls (367,156) and (363,152) .. (H.east);
\draw[ylw,line width=1.2pt] (T.north) .. controls +(0,-80) and +(0,80) .. (381,250) -- (381,196) .. controls (381,188) and (388,185) .. (I.west);
\draw[ylw,line width=1.2pt] ([xshift=4]T.north) .. controls +(0,-40) and +(0,40) .. (386,335) -- (386,316) .. controls (386,308) and (390,306) .. (C.west);
\draw[slm,line width=1.2pt] ([xshift=3]T.south) .. controls +(0,28) and +(-10,0) .. (E.west);
\draw[tnl,line width=1.2pt] ([xshift=-1]T.south) .. controls +(0,40) and +(10,0) .. (Q.east);
\draw[brn,line width=1.2pt] (T.south) .. controls +(0,100) and +(0,-150) .. (368,700) .. controls (368,720) and (365,727) .. (W.east);
\draw[gry,line width=1.2pt] ([xshift=2]T.south) .. controls +(0,100) and +(0,-150) .. (384,672) .. controls (384,690) and (390,694) .. (O.west);
\conns
\end{pgfonlayer}
\end{tikzpicture}
\end{document}
